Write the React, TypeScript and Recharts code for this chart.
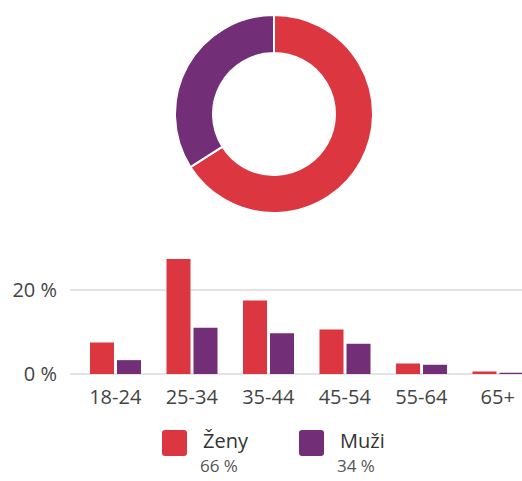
import { Bar, BarChart, CartesianGrid, Cell, Pie, PieChart, XAxis, YAxis } from "recharts"

const genders = ["Ženy", "Muži"]
const genderShare = [66, 34]
const genderColors = ["#dc3740", "#722f77"]

const ageGroups = ["18-24", "25-34", "35-44", "45-54", "55-64", "65+"]
const women = [7.5, 27.4, 17.5, 10.6, 2.5, 0.6]
const men = [3.3, 11, 9.7, 7.2, 2.2, 0.3]
const yTicks = [0, 20]

const pieData = genders.map((name, i) => ({ name, value: genderShare[i] }))
const barData = ageGroups.map((age, i) => ({ age, women: women[i], men: men[i] }))

const font = "'Open Sans', 'Segoe UI', sans-serif"

export default function App() {
  return (
    <div
      style={{
        position: "absolute",
        left: 0,
        top: 0,
        width: 522,
        height: 481,
        overflow: "hidden",
        background: "#fff",
        fontFamily: font,
      }}
    >
      <div style={{ position: "absolute", left: 0, top: 0 }}>
        <PieChart width={522} height={230} margin={{ top: 0, right: 0, bottom: 0, left: 0 }}>
          <Pie
            data={pieData}
            dataKey="value"
            nameKey="name"
            cx={274}
            cy={114}
            innerRadius={61}
            outerRadius={99}
            startAngle={90}
            endAngle={-270}
            stroke="#fff"
            strokeWidth={2}
            isAnimationActive={false}
          >
            {pieData.map((d, i) => (
              <Cell key={d.name} fill={genderColors[i]} />
            ))}
          </Pie>
        </PieChart>
      </div>

      <div style={{ position: "absolute", left: 0, top: 240 }}>
        <BarChart
          width={540}
          height={180}
          data={barData}
          margin={{ top: 8, right: 4, bottom: 0, left: 0 }}
          barSize={24}
          barGap={3}
        >
          <CartesianGrid vertical={false} horizontalValues={yTicks} stroke="#e4e4e4" strokeWidth={2} />
          <XAxis
            dataKey="age"
            axisLine={false}
            tickLine={false}
            tickMargin={10}
            height={46}
            padding={{ left: 7, right: 0 }}
            interval={0}
            tick={{ fill: "#444", fontSize: 20, fontFamily: font }}
          />
          <YAxis
            width={70}
            domain={[0, 30]}
            ticks={yTicks}
            axisLine={false}
            tickLine={false}
            tickMargin={7}
            tickFormatter={(v) => `${v} %`}
            tick={{ fill: "#444", fontSize: 20, fontFamily: font }}
          />
          <Bar dataKey="women" fill={genderColors[0]} isAnimationActive={false} />
          <Bar dataKey="men" fill={genderColors[1]} isAnimationActive={false} />
        </BarChart>
      </div>

      {genders.map((g, i) => (
        <div
          key={g}
          style={{
            position: "absolute",
            left: i === 0 ? 162 : 299,
            top: 430,
            display: "flex",
            alignItems: "flex-start",
          }}
        >
          <div
            style={{
              width: 25,
              height: 26,
              borderRadius: 3,
              background: genderColors[i],
              marginRight: 16,
            }}
          />
          <div style={{ display: "flex", flexDirection: "column", marginTop: -2 }}>
            <span style={{ fontSize: 20, color: "#333", lineHeight: "26px" }}>{g}</span>
            <span style={{ fontSize: 17, color: "#555", lineHeight: "24px", marginLeft: -3 }}>
              {genderShare[i]} %
            </span>
          </div>
        </div>
      ))}
    </div>
  )
}
